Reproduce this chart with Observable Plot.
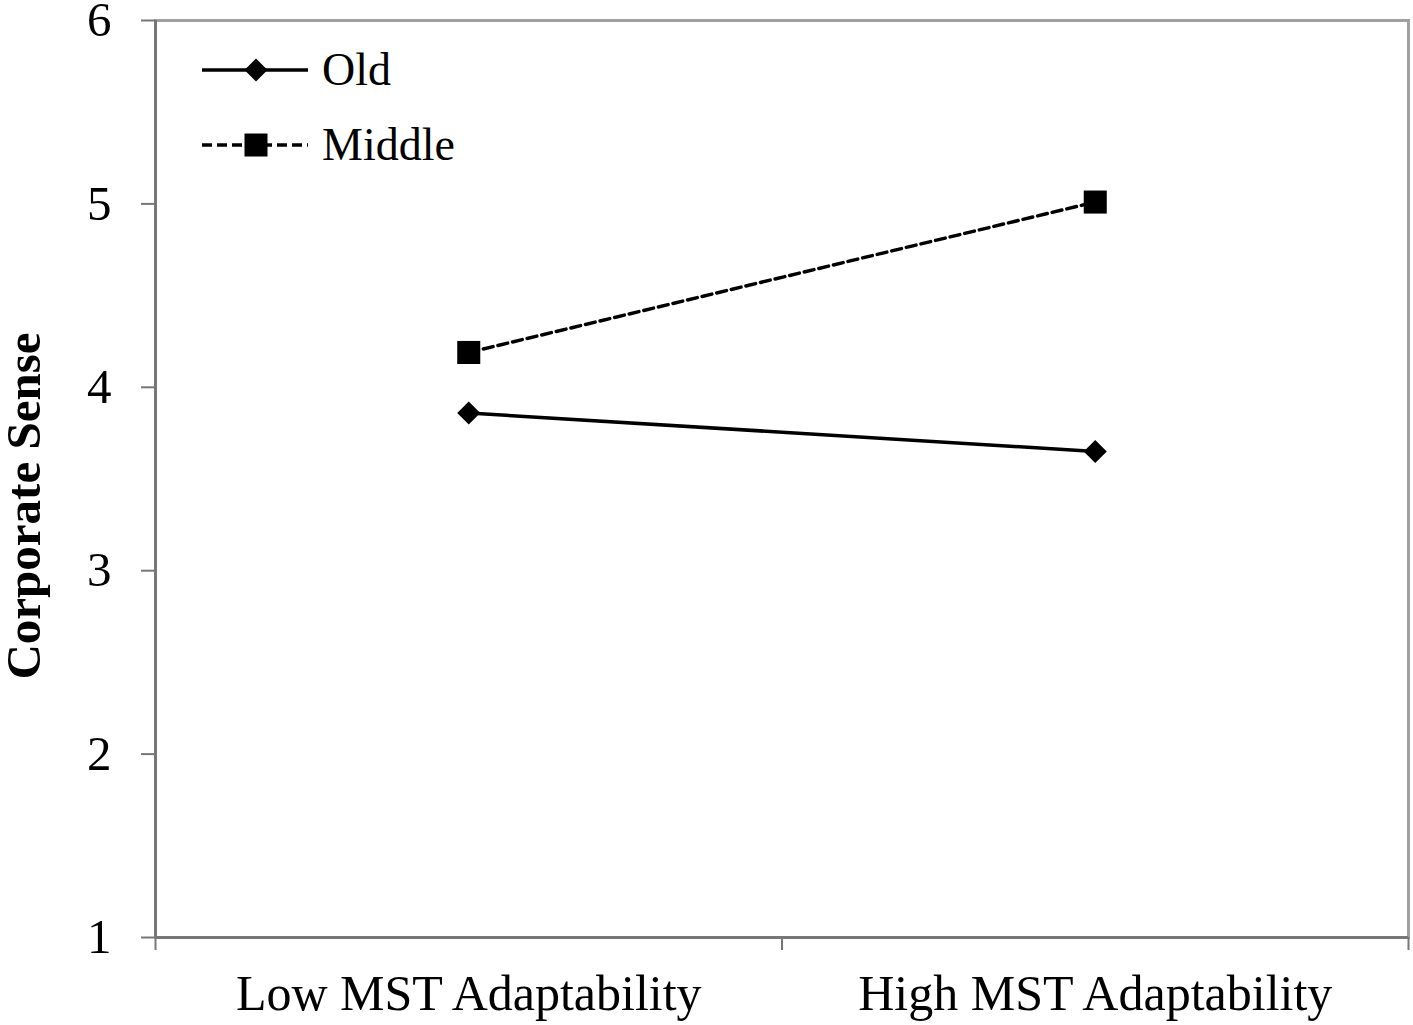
<!DOCTYPE html>
<html>
<head>
<meta charset="utf-8">
<script src="https://cdn.jsdelivr.net/npm/d3@7"></script>
<script src="https://cdn.jsdelivr.net/npm/@observablehq/plot@0.6"></script>
<style>
  html, body { margin: 0; padding: 0; background: #fff; }
  #wrap { position: relative; width: 1413px; height: 1025px; }
  #legend { position: absolute; left: 200px; top: 32px; font-family: "Liberation Serif", serif; font-size: 46px; color: #000; }
  .row { display: flex; align-items: center; height: 75px; }
  .row svg { margin-right: 12px; }
</style>
</head>
<body>
<div id="wrap"></div>
<script>
const categories = ["Low MST Adaptability", "High MST Adaptability"];
const seriesNames = ["Old", "Middle"];
const oldValues = [3.86, 3.65];
const middleValues = [4.19, 5.01];
const yTicks = [1, 2, 3, 4, 5, 6];

const rows = [];
categories.forEach((c, i) => {
  rows.push({series: "Old", pos: i + 0.5, cat: c, value: oldValues[i]});
  rows.push({series: "Middle", pos: i + 0.5, cat: c, value: middleValues[i]});
});
const oldRows = rows.filter(d => d.series === "Old");
const midRows = rows.filter(d => d.series === "Middle");
const boundaries = d3.range(categories.length + 1);
const centers = categories.map((c, i) => i + 0.5);

const chart = Plot.plot({
  width: 1413,
  height: 1025,
  marginLeft: 155,
  marginTop: 20,
  marginRight: 5,
  marginBottom: 88,
  style: {fontFamily: "Liberation Serif, serif", fontSize: "49px", color: "#000", background: "#fff"},
  x: {domain: [0, categories.length]},
  y: {domain: [1, 6], label: "Corporate Sense"},
  marks: [
    Plot.frame({stroke: "#a0a0a0", strokeWidth: 3}),
    Plot.axisY({ticks: yTicks, tickSize: 14, tickPadding: 30, stroke: "#777", strokeWidth: 2, label: "Corporate Sense", labelAnchor: "center", labelArrow: "none", labelOffset: 150, tickFormat: d3.format("d")}),
    Plot.axisX({ticks: boundaries, tickSize: 13, tickFormat: () => "", stroke: "#777", strokeWidth: 2, label: null}),
    Plot.axisX({ticks: centers, tickSize: 0, tickPadding: 37, tickFormat: (d) => categories[Math.floor(d)], label: null, fontSize: 50}),
    Plot.ruleX([0], {stroke: "#777", strokeWidth: 3}),
    Plot.ruleY([1], {stroke: "#777", strokeWidth: 3}),
    Plot.line(oldRows, {x: "pos", y: "value", stroke: "#000", strokeWidth: 3.5}),
    Plot.line(midRows, {x: "pos", y: "value", stroke: "#000", strokeWidth: 3.5, strokeDasharray: "10,5"}),
    Plot.dot(oldRows, {x: "pos", y: "value", symbol: "diamond2", fill: "#000", stroke: "none", r: 10.4}),
    Plot.dot(midRows, {x: "pos", y: "value", symbol: "square", fill: "#000", stroke: "none", r: 13})
  ]
});
d3.select(chart).selectAll('[aria-label="y-axis label"] text')
  .style("font-weight", "bold").style("font-size", "49px").attr("dx", -27);
d3.select(chart).selectAll('[aria-label="y-axis label"]').style("font-weight", "bold");
const wrap = document.getElementById("wrap");
wrap.appendChild(chart);

const legend = document.createElement("div");
legend.id = "legend";
legend.innerHTML = `
<div class="row"><svg width="110" height="30"><line x1="2" y1="15" x2="108" y2="15" stroke="#000" stroke-width="3.5"/><path d="M56 3.5 L67.5 15 L56 26.5 L44.5 15 Z" fill="#000"/></svg><span>${seriesNames[0]}</span></div>
<div class="row"><svg width="110" height="30"><line x1="2" y1="15" x2="108" y2="15" stroke="#000" stroke-width="3.5" stroke-dasharray="10,5"/><rect x="44.5" y="3.5" width="23" height="23" fill="#000"/></svg><span>${seriesNames[1]}</span></div>`;
wrap.appendChild(legend);
</script>
</body>
</html>
